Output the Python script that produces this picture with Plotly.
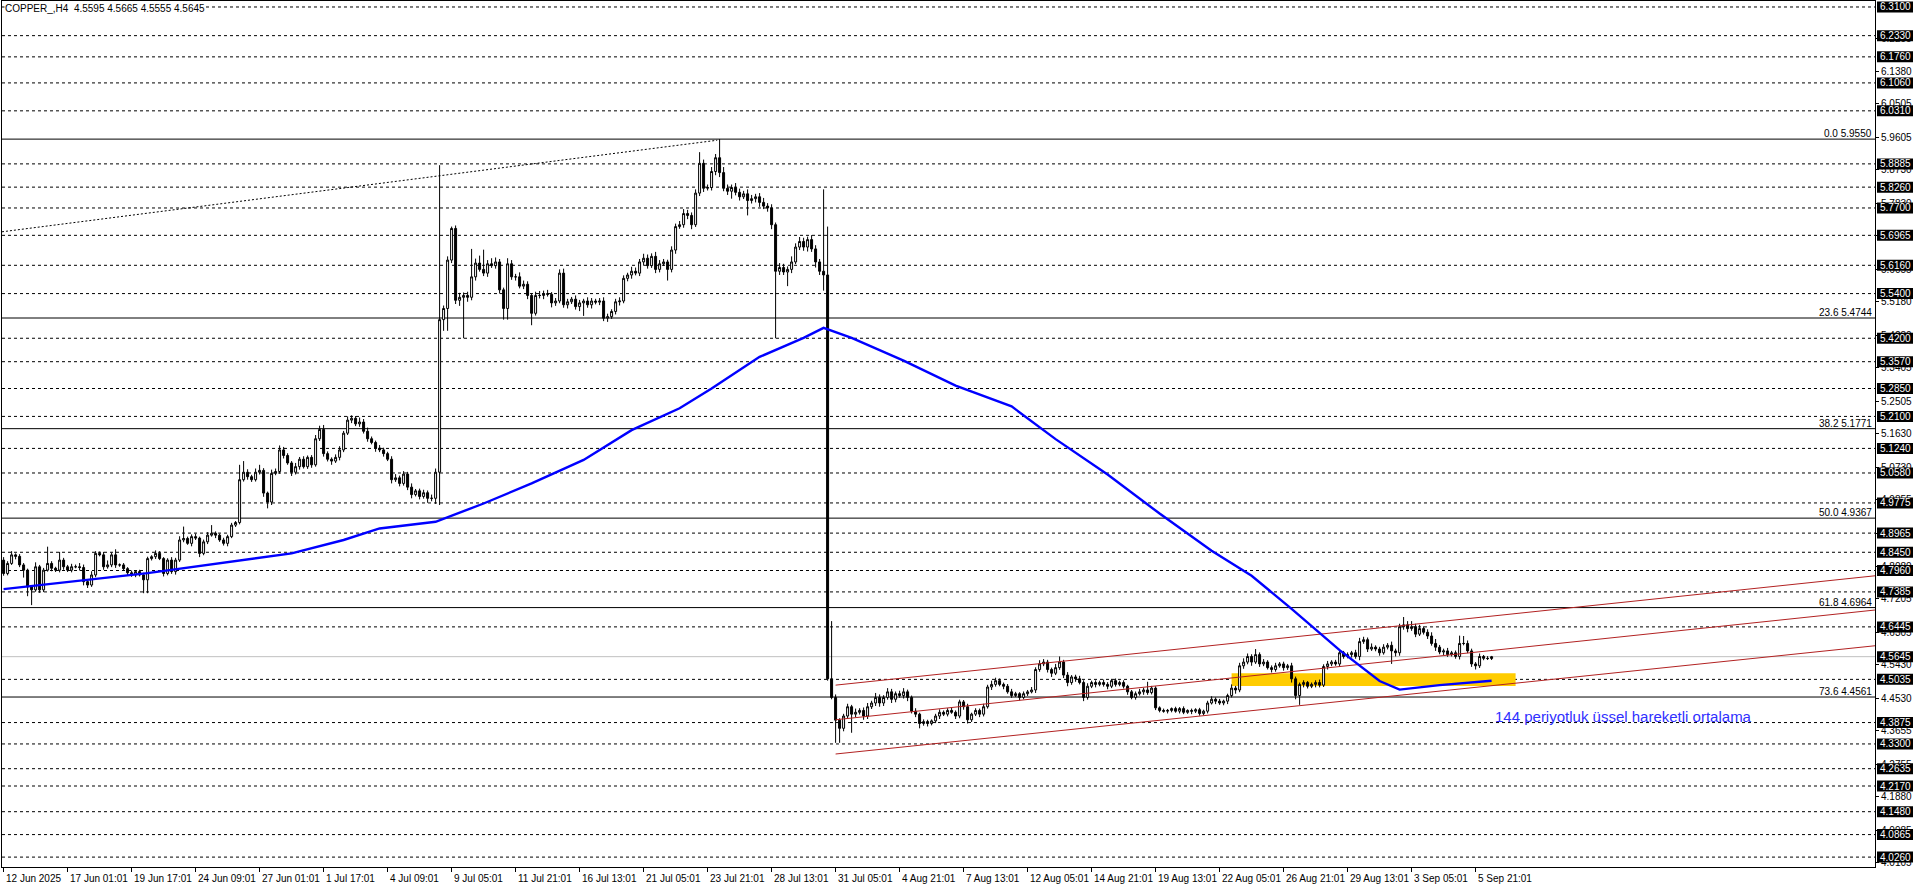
import plotly.graph_objects as go

FONT = "Liberation Sans, Arial, sans-serif"

# ---------------- data ----------------
first_open = 4.824
close = [
    4.788, 4.815, 4.838, 4.834, 4.811, 4.797, 4.752, 4.744, 4.806, 4.744,
    4.797, 4.815, 4.802, 4.797, 4.824, 4.806, 4.797, 4.806, 4.806, 4.804,
    4.766, 4.757, 4.784, 4.842, 4.838, 4.806, 4.811, 4.838, 4.811, 4.811,
    4.801, 4.790, 4.784, 4.793, 4.784, 4.771, 4.828, 4.833, 4.842, 4.828,
    4.788, 4.824, 4.793, 4.824, 4.878, 4.882, 4.869, 4.887, 4.883, 4.842,
    4.873, 4.891, 4.896, 4.891, 4.878, 4.869, 4.887, 4.918, 4.925, 5.040,
    5.060, 5.048, 5.040, 5.060, 5.065, 5.004, 4.980, 5.057, 5.062, 5.120,
    5.105, 5.085, 5.060, 5.075, 5.095, 5.075, 5.100, 5.080, 5.150, 5.175,
    5.110, 5.095, 5.090, 5.100, 5.120, 5.165, 5.200, 5.205, 5.190, 5.195,
    5.170, 5.150, 5.140, 5.125, 5.120, 5.110, 5.095, 5.040, 5.045, 5.030,
    5.055, 5.020, 5.000, 5.010, 4.995, 5.005, 4.990, 4.990, 5.060, 5.470,
    5.500, 5.630, 5.715, 5.522, 5.530, 5.535, 5.530, 5.585, 5.622, 5.605,
    5.595, 5.620, 5.615, 5.625, 5.550, 5.500, 5.620, 5.585, 5.585, 5.560,
    5.565, 5.535, 5.487, 5.535, 5.535, 5.540, 5.538, 5.515, 5.520, 5.595,
    5.510, 5.518, 5.525, 5.505, 5.515, 5.520, 5.510, 5.520, 5.517, 5.520,
    5.474, 5.478, 5.492, 5.518, 5.520, 5.581, 5.590, 5.600, 5.595, 5.625,
    5.635, 5.615, 5.640, 5.605, 5.620, 5.625, 5.605, 5.657, 5.720, 5.725,
    5.755, 5.750, 5.725, 5.810, 5.890, 5.823, 5.825, 5.868, 5.905, 5.865,
    5.823, 5.815, 5.825, 5.812, 5.800, 5.808, 5.790, 5.795, 5.800, 5.785,
    5.775, 5.770, 5.725, 5.600, 5.610, 5.598, 5.605, 5.625, 5.665, 5.680,
    5.665, 5.685, 5.660, 5.625, 5.600, 5.590, 4.505, 4.455, 4.394, 4.372,
    4.405, 4.430, 4.410, 4.415, 4.420, 4.405, 4.430, 4.440, 4.455, 4.440,
    4.455, 4.470, 4.450, 4.465, 4.460, 4.470, 4.455, 4.418, 4.410, 4.385,
    4.390, 4.385, 4.392, 4.405, 4.415, 4.410, 4.420, 4.415, 4.405, 4.443,
    4.430, 4.395, 4.410, 4.420, 4.410, 4.430, 4.483, 4.490, 4.500, 4.490,
    4.485, 4.470, 4.460, 4.465, 4.455, 4.465, 4.470, 4.475, 4.530, 4.545,
    4.550, 4.530, 4.520, 4.535, 4.550, 4.515, 4.495, 4.510, 4.505, 4.495,
    4.455, 4.485, 4.495, 4.490, 4.495, 4.490, 4.485, 4.500, 4.490, 4.495,
    4.485, 4.470, 4.455, 4.465, 4.470, 4.475, 4.468, 4.480, 4.427, 4.420,
    4.418, 4.420, 4.425, 4.418, 4.425, 4.415, 4.420, 4.418, 4.422, 4.412,
    4.418, 4.440, 4.450, 4.445, 4.440, 4.445, 4.460, 4.480, 4.475, 4.540,
    4.550, 4.565, 4.550, 4.570, 4.545, 4.550, 4.535, 4.530, 4.540, 4.545,
    4.535, 4.540, 4.505, 4.460, 4.490, 4.495, 4.485, 4.490, 4.495, 4.488,
    4.538, 4.545, 4.550, 4.545, 4.575, 4.565, 4.570, 4.575, 4.565, 4.605,
    4.610, 4.585, 4.590, 4.585, 4.575, 4.590, 4.595, 4.580, 4.575, 4.645,
    4.650, 4.640, 4.645, 4.625, 4.640, 4.630, 4.620, 4.600, 4.590, 4.577,
    4.580, 4.570, 4.575, 4.565, 4.600, 4.600, 4.580, 4.545, 4.540, 4.565,
    4.560, 4.5595, 4.5645,
]
# upper / lower wick lengths in 0.001 price units
hi_wick = [
    8, 6, 10, 4, 6, 5, 4, 3, 12, 5,
    6, 45, 6, 4, 22, 6, 5, 8, 6, 10,
    8, 5, 10, 6, 5, 8, 12, 6, 15, 4,
    5, 4, 6, 3, 5, 6, 5, 4, 8, 6,
    4, 5, 8, 6, 10, 32, 5, 6, 8, 4,
    6, 8, 22, 5, 4, 6, 5, 6, 4, 40,
    30, 8, 5, 10, 15, 6, 4, 10, 8, 12,
    8, 6, 5, 10, 6, 8, 5, 6, 10, 10,
    12, 6, 5, 8, 10, 6, 10, 8, 6, 12,
    8, 10, 6, 5, 8, 6, 5, 8, 10, 6,
    8, 6, 10, 5, 6, 8, 6, 10, 10, 415,
    8, 10, 5, 8, 12, 8, 10, 75, 12, 20,
    53, 10, 15, 12, 8, 6, 15, 10, 8, 12,
    10, 8, 6, 10, 12, 8, 10, 6, 8, 10,
    12, 8, 6, 10, 8, 6, 10, 8, 6, 8,
    10, 8, 6, 8, 10, 8, 6, 12, 10, 8,
    12, 10, 8, 12, 10, 8, 6, 10, 8, 10,
    12, 10, 8, 10, 30, 10, 8, 12, 10, 50,
    15, 10, 8, 12, 10, 8, 12, 10, 8, 10,
    12, 8, 10, 6, 12, 10, 8, 15, 10, 12,
    10, 8, 12, 10, 8, 220, 130, 155, 8, 5,
    6, 8, 5, 10, 6, 8, 10, 6, 12, 8,
    6, 10, 8, 6, 8, 10, 6, 5, 8, 4,
    6, 5, 4, 6, 8, 5, 6, 8, 5, 6,
    5, 8, 4, 6, 5, 8, 6, 10, 8, 6,
    5, 6, 8, 5, 4, 6, 5, 8, 6, 10,
    8, 6, 5, 10, 15, 6, 8, 5, 6, 8,
    6, 8, 5, 6, 5, 8, 6, 5, 6, 5,
    6, 4, 5, 6, 8, 6, 22, 6, 5, 4,
    5, 4, 3, 5, 4, 6, 3, 5, 4, 5,
    4, 6, 8, 5, 6, 4, 5, 10, 6, 8,
    10, 8, 6, 15, 6, 8, 5, 6, 8, 5,
    6, 5, 8, 6, 5, 6, 4, 5, 6, 8,
    6, 8, 5, 6, 8, 5, 6, 5, 8, 10,
    8, 6, 10, 5, 6, 8, 6, 10, 6, 8,
    21, 10, 15, 8, 10, 6, 8, 10, 12, 6,
    6, 8, 5, 6, 21, 20, 8, 6, 5, 8,
    4, 6, 2,
]
lo_wick = [
    6, 5, 4, 8, 6, 20, 25, 41, 5, 8,
    6, 4, 8, 5, 6, 8, 5, 6, 4, 8,
    10, 8, 5, 6, 4, 8, 5, 6, 8, 5,
    6, 8, 5, 6, 4, 36, 36, 5, 6, 4,
    8, 5, 6, 8, 5, 6, 4, 8, 5, 10,
    5, 6, 4, 8, 5, 6, 8, 4, 5, 5,
    5, 8, 6, 5, 6, 10, 17, 8, 5, 6,
    8, 5, 10, 6, 8, 5, 6, 8, 5, 6,
    8, 6, 10, 5, 8, 6, 5, 8, 6, 8,
    6, 8, 5, 10, 6, 8, 5, 10, 6, 8,
    6, 8, 10, 5, 8, 6, 12, 8, 15, 88,
    30, 60, 8, 10, 15, 110, 12, 8, 10, 6,
    8, 10, 6, 8, 10, 30, 30, 8, 10, 6,
    8, 10, 32, 6, 8, 10, 6, 12, 8, 6,
    8, 10, 6, 8, 12, 35, 8, 10, 6, 8,
    8, 10, 6, 8, 10, 6, 8, 10, 6, 8,
    10, 8, 6, 10, 8, 6, 30, 8, 10, 6,
    8, 10, 12, 6, 8, 10, 6, 8, 10, 12,
    8, 10, 20, 8, 10, 6, 40, 8, 10, 12,
    8, 10, 12, 180, 10, 8, 38, 10, 6, 8,
    10, 12, 8, 15, 10, 42, 5, 5, 61, 39,
    8, 6, 50, 8, 6, 10, 8, 6, 8, 10,
    8, 6, 10, 8, 6, 8, 10, 6, 8, 13,
    6, 8, 5, 6, 8, 5, 6, 4, 8, 6,
    8, 10, 6, 5, 8, 6, 5, 8, 6, 5,
    8, 5, 6, 4, 8, 5, 6, 4, 8, 6,
    6, 8, 10, 5, 6, 8, 10, 6, 8, 5,
    10, 6, 5, 8, 5, 6, 8, 5, 6, 5,
    6, 8, 5, 6, 5, 8, 6, 5, 6, 5,
    4, 6, 5, 4, 6, 5, 4, 8, 5, 6,
    5, 6, 4, 8, 5, 6, 8, 5, 10, 6,
    8, 6, 10, 5, 8, 6, 5, 8, 6, 5,
    8, 6, 10, 10, 25, 8, 6, 5, 8, 6,
    5, 8, 6, 5, 8, 6, 5, 8, 6, 10,
    6, 8, 5, 6, 8, 5, 6, 35, 10, 8,
    8, 10, 6, 8, 5, 6, 8, 6, 10, 6,
    8, 6, 5, 6, 8, 5, 6, 8, 10, 6,
    5, 4, 4,
]

x_tick_bars = [0, 16, 32, 48, 64, 80, 96, 112, 128, 144, 160, 176,
               192, 208, 224, 240, 256, 272, 288, 304, 320, 336, 352, 368]
x_tick_labels = ["12 Jun 2025", "17 Jun 01:01", "19 Jun 17:01", "24 Jun 09:01",
                 "27 Jun 01:01", "1 Jul 17:01", "4 Jul 09:01", "9 Jul 05:01",
                 "11 Jul 21:01", "16 Jul 13:01", "21 Jul 05:01", "23 Jul 21:01",
                 "28 Jul 13:01", "31 Jul 05:01", "4 Aug 21:01", "7 Aug 13:01",
                 "12 Aug 05:01", "14 Aug 21:01", "19 Aug 13:01", "22 Aug 05:01",
                 "26 Aug 21:01", "29 Aug 13:01", "3 Sep 05:01", "5 Sep 21:01"]

y_ticks = [6.2255, 6.1380, 6.0505, 5.9605, 5.8730, 5.7830, 5.6955, 5.6055,
           5.5180, 5.4280, 5.3405, 5.2505, 5.1630, 5.0730, 4.9855, 4.8955,
           4.8080, 4.7205, 4.6305, 4.5430, 4.4530, 4.3655, 4.2755, 4.1880,
           4.0985, 4.0105]

dashed_levels = [6.3100, 6.2330, 6.1760, 6.1060, 6.0310, 5.8885, 5.8260, 5.7700,
                 5.6965, 5.6160, 5.5400, 5.4200, 5.3570, 5.2850, 5.2100, 5.1240,
                 5.0580, 4.9775, 4.8965, 4.8450, 4.7960, 4.7385, 4.6445, 4.5035,
                 4.3875, 4.3300, 4.2635, 4.2170, 4.1480, 4.0865, 4.0260]
current_price = 4.5645

fib_levels = [5.9550, 5.4744, 5.1771, 4.9367, 4.6964, 4.4561]
fib_names = ["0.0", "23.6", "38.2", "50.0", "61.8", "73.6"]

ema_bars = [0, 36, 72, 85, 94, 108, 120, 132, 145, 157, 169, 177, 189, 200, 205,
            212, 225, 238, 252, 263, 276, 289, 302, 312, 322, 334, 344, 349, 359, 372]
ema_vals = [4.746, 4.789, 4.842, 4.878, 4.909, 4.927, 4.976, 5.030, 5.093, 5.173,
            5.232, 5.285, 5.370, 5.421, 5.448, 5.421, 5.360, 5.293, 5.237, 5.149,
            5.054, 4.949, 4.849, 4.782, 4.693, 4.582, 4.499, 4.476, 4.488, 4.500]

channel_x = [208, 468]
channel_upper = [4.488, 4.782]
channel_mid = [4.395, 4.690]
channel_low = [4.303, 4.594]

trend_x = [-0.4, 178.4]
trend_y = [5.706, 5.952]

zone_x = [307, 378]
zone_y = [4.486, 4.520]

ema_label = "144 periyotluk üssel hareketli ortalama"
ema_label_pos = (372.4, 4.405)
title_text = "COPPER_,H4  4.5595 4.5665 4.5555 4.5645"

# ---------------- build ----------------
n = len(close)
if not (len(hi_wick) == n and len(lo_wick) == n):
    raise ValueError(f"length mismatch {n} {len(hi_wick)} {len(lo_wick)}")
bars = list(range(n))
open_ = [first_open] + close[:-1]
high = [max(o, c) + w / 1000 for o, c, w in zip(open_, close, hi_wick)]
low = [min(o, c) - w / 1000 for o, c, w in zip(open_, close, lo_wick)]

fig = go.Figure()

red = "#B22222"
for ys in (channel_upper, channel_mid, channel_low):
    fig.add_trace(go.Scatter(x=channel_x, y=ys, mode="lines",
                             line=dict(color=red, width=1), hoverinfo="skip",
                             showlegend=False))
fig.add_trace(go.Scatter(x=trend_x, y=trend_y, mode="lines",
                         line=dict(color="black", width=1, dash="2px,2px"),
                         hoverinfo="skip", showlegend=False))

fig.add_trace(go.Candlestick(
    x=bars, open=open_, high=high, low=low, close=close,
    increasing=dict(line=dict(color="black", width=1), fillcolor="white"),
    decreasing=dict(line=dict(color="black", width=1), fillcolor="black"),
    whiskerwidth=0, hoverinfo="skip", showlegend=False))

fig.add_trace(go.Scatter(x=ema_bars, y=ema_vals, mode="lines",
                         line=dict(color="#0000FF", width=2.4),
                         hoverinfo="skip", showlegend=False))

shapes = []
shapes.append(dict(type="rect", xref="x", yref="y", x0=zone_x[0], x1=zone_x[1],
                   y0=zone_y[0], y1=zone_y[1], fillcolor="#FFCC00",
                   line=dict(width=0), layer="below"))
for v in dashed_levels:
    shapes.append(dict(type="line", xref="paper", x0=0, x1=1, yref="y", y0=v, y1=v,
                       line=dict(color="black", width=1, dash="3px,3px"), layer="below"))
shapes.append(dict(type="line", xref="paper", x0=0, x1=1, yref="y",
                   y0=current_price, y1=current_price,
                   line=dict(color="#C0C0C0", width=1), layer="below"))
for v in fib_levels:
    shapes.append(dict(type="line", xref="paper", x0=0, x1=1, yref="y", y0=v, y1=v,
                       line=dict(color="black", width=1), layer="below"))

annotations = []
box_levels = dashed_levels[:23] + [current_price] + dashed_levels[23:]
for v in box_levels:
    shapes.append(dict(type="rect", xref="paper", xsizemode="pixel", xanchor=1,
                       x0=2, x1=38, yref="y", ysizemode="pixel", yanchor=v,
                       y0=-5.5, y1=5.5, fillcolor="black", line=dict(width=0),
                       layer="above"))
    annotations.append(dict(xref="paper", x=1, xanchor="left", xshift=3,
                            yref="y", y=v, yanchor="middle", text=f"{v:.4f}",
                            font=dict(color="white", size=10, family=FONT),
                            showarrow=False))

for name, v in zip(fib_names, fib_levels):
    annotations.append(dict(xref="paper", x=1, xanchor="right", xshift=-1,
                            yref="y", y=v, yanchor="bottom", yshift=-2,
                            text=f"{name} {v:.4f}",
                            font=dict(color="black", size=10, family=FONT),
                            showarrow=False))

for b, t in zip(x_tick_bars, x_tick_labels):
    annotations.append(dict(xref="x", x=b, xanchor="left", xshift=0,
                            yref="paper", y=0, yanchor="top", yshift=-4,
                            text=t, font=dict(color="black", size=10, family=FONT),
                            showarrow=False))

annotations.append(dict(xref="x", x=ema_label_pos[0], xanchor="left",
                        yref="y", y=ema_label_pos[1], yanchor="middle",
                        text=ema_label, font=dict(color="#3030FF", size=15, family=FONT),
                        showarrow=False))
annotations.append(dict(xref="paper", x=0, xanchor="left", xshift=2,
                        yref="paper", y=1, yanchor="top", yshift=-1,
                        text=title_text, bgcolor="white", borderpad=0,
                        font=dict(color="black", size=10, family=FONT),
                        showarrow=False))

fig.update_layout(
    width=1916, height=888,
    margin=dict(l=2, r=41, t=1, b=21),
    paper_bgcolor="white", plot_bgcolor="white",
    showlegend=False,
    shapes=shapes, annotations=annotations,
    font=dict(family=FONT, size=10, color="black"),
    xaxis=dict(range=[-0.4, 467.85], showgrid=False, zeroline=False,
               showline=True, linecolor="black", linewidth=1, mirror=True,
               ticks="outside", ticklen=4, tickcolor="black",
               tickvals=x_tick_bars, showticklabels=False,
               rangeslider=dict(visible=False), fixedrange=True),
    yaxis=dict(range=[3.9994, 6.3261], side="right", showgrid=False, zeroline=False,
               showline=True, linecolor="black", linewidth=1, mirror=True,
               ticks="outside", ticklen=3, tickcolor="black",
               tickvals=y_ticks, ticktext=[f"{v:.4f}" for v in y_ticks],
               tickfont=dict(size=10, family=FONT, color="black"),
               fixedrange=True),
)

page_fix = ("document.body.style.margin='0';"
            "document.body.style.padding='0';"
            "document.body.style.overflow='hidden';"
            "document.documentElement.style.overflow='hidden';")

fig.write_html("out.html", post_script=page_fix, config={"displayModeBar": False})
